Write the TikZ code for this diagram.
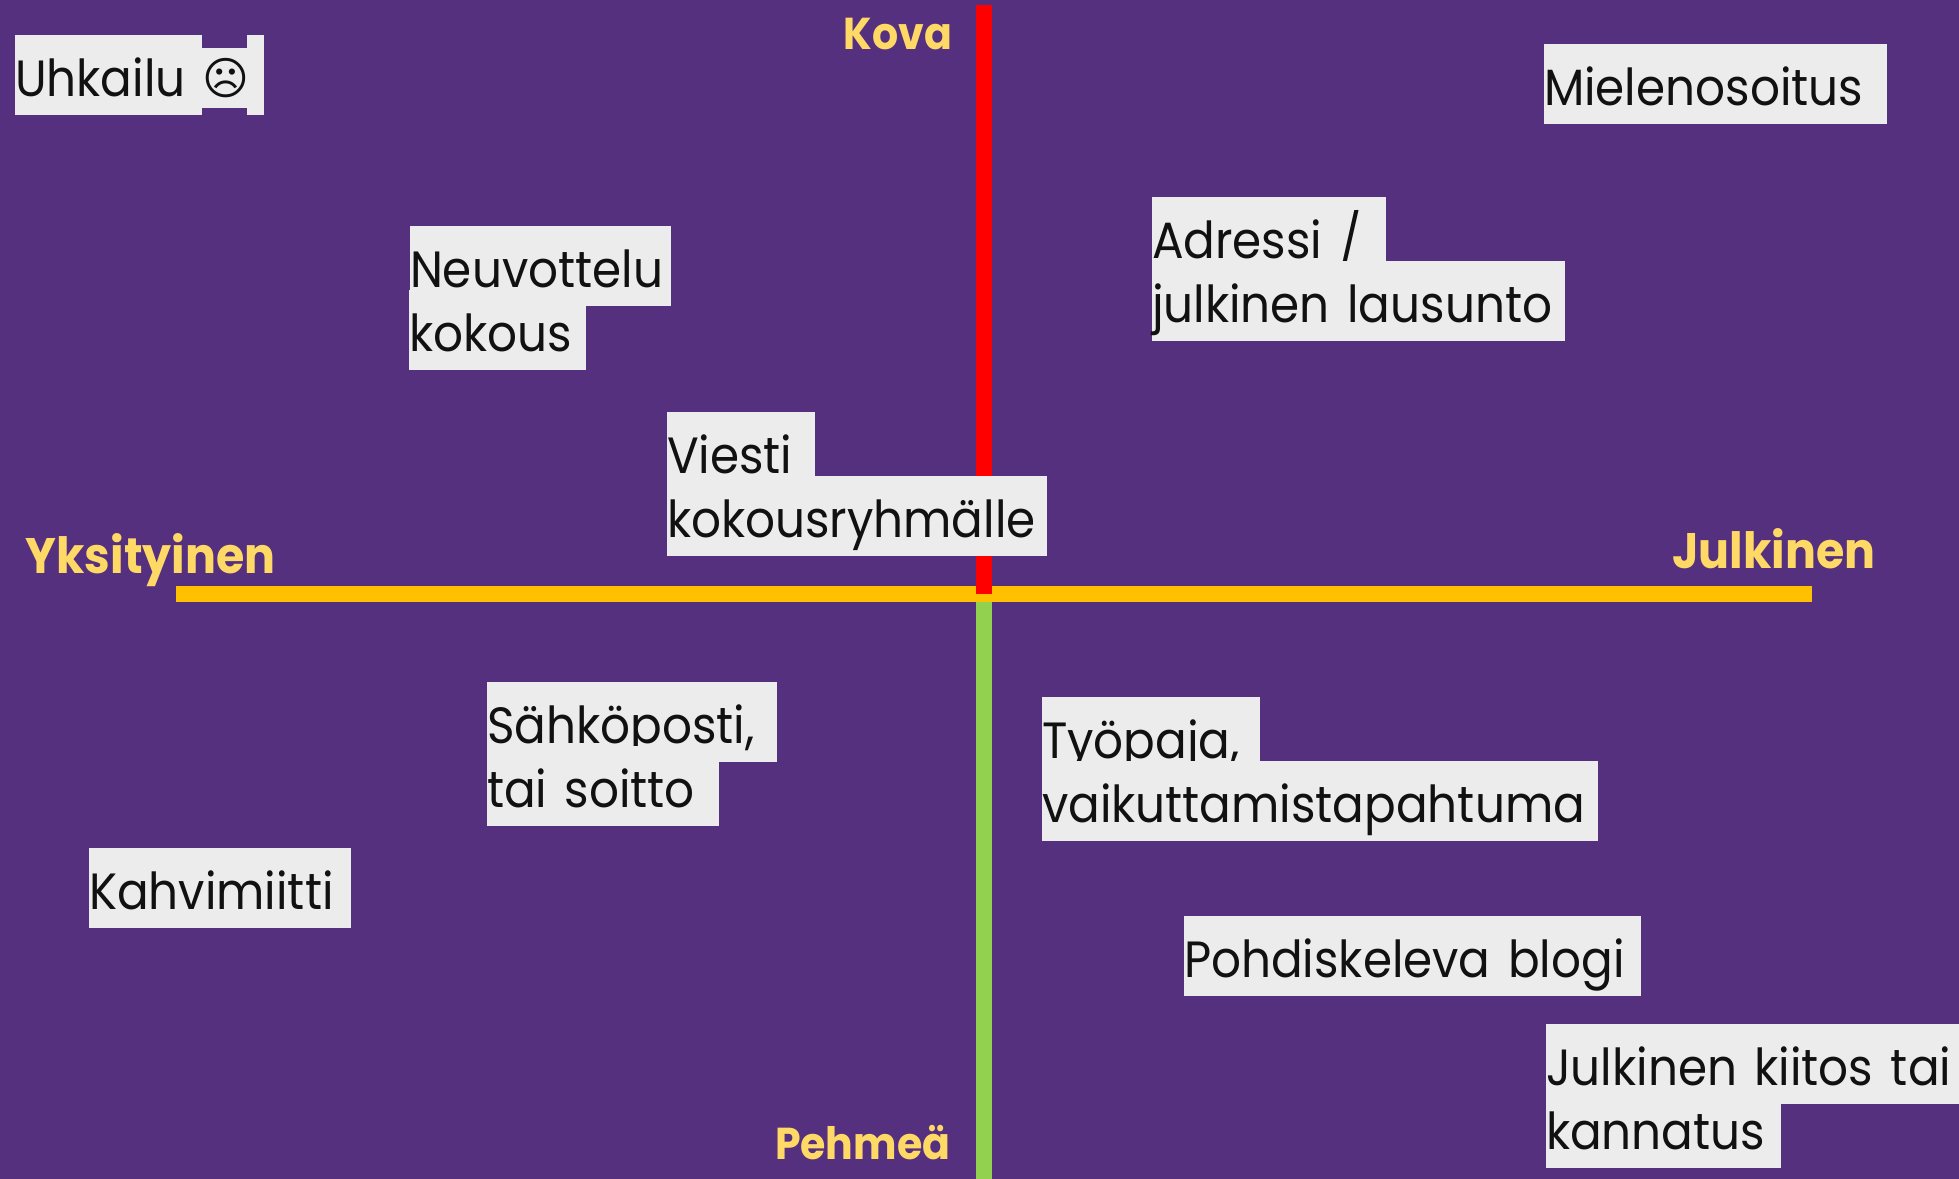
\documentclass[tikz,border=0pt]{standalone}
\usepackage{fontspec}
\setmainfont{Poppins}[FakeStretch=0.92, WordSpace=1.4]
\newfontfamily\symbfont{DejaVu Sans}
\definecolor{plum}{HTML}{55307E}
\definecolor{paper}{HTML}{ECECEC}
\definecolor{ink}{HTML}{111111}
\definecolor{hardred}{HTML}{FF0000}
\definecolor{softgreen}{HTML}{92D050}
\definecolor{axisyellow}{HTML}{FFC000}
\definecolor{labelyellow}{HTML}{FFD966}
\tikzstyle{hl} = [fill=paper, text=ink, anchor=north west, inner sep=0pt, outer sep=0pt, text width=#1cm, align=flush left, text height=0.62cm, text depth=0.18cm, font=\fontsize{14.5pt}{17pt}\selectfont]
\tikzstyle{axislabel} = [text=labelyellow, inner sep=0pt, font=\fontsize{12.7pt}{16pt}\selectfont\bfseries]
\tikzstyle{axislabelbig} = [axislabel, font=\fontsize{14.2pt}{18pt}\selectfont\bfseries]
\tikzstyle{line} = [draw, line width=0.16cm]

\begin{document}
\begin{tikzpicture}[y=-1cm]
    \useasboundingbox [fill=plum] (0,0) rectangle (19.59,11.79);
    % Place axis ends
    \coordinate (top) at (9.84,0.05);
    \coordinate (bottom) at (9.84,11.79);
    \coordinate (left) at (1.76,5.94);
    \coordinate (right) at (18.12,5.94);
    \coordinate (centre) at (9.84,5.94);
    % Draw axes
    \draw [line, softgreen] (centre) -- (bottom);
    \draw [line, axisyellow] (left) -- (right);
    \draw [line, hardred] (top) -- (centre);
    % Place axis labels
    \node [axislabel, anchor=base east] (kova) at (9.53,0.50) {Kova};
    \node [axislabel, anchor=base east] (pehmea) at (9.51,11.60) {Pehmeä};
    \node [axislabelbig, anchor=base west] (yksityinen) at (0.25,5.74) {Yksityinen};
    \node [axislabelbig, anchor=base east] (julkinen) at (18.76,5.69) {Julkinen};
    % Place nodes
    \node [hl=1.87] (uhkailu) at (0.15,0.35) {Uhkailu};
    \node [hl=0.45, text height=0.47cm, text depth=0.13cm, font=\fontsize{12.8pt}{17pt}\selectfont] (uhkailu_face) at (2.02,0.48) {\symbfont ☹};
    \node [hl=0.17] (uhkailu_end) at (2.47,0.35) {};
    \node [hl=2.61] (neuvottelu) at (4.10,2.26) {Neuvottelu};
    \node [hl=1.77] (kokous) at (4.09,2.90) {kokous};
    \node [hl=1.48] (viesti) at (6.67,4.12) {Viesti};
    \node [hl=3.80] (ryhma) at (6.67,4.76) {kokousryhmälle};
    \node [hl=3.43] (mielenosoitus) at (15.44,0.44) {Mielenosoitus};
    \node [hl=2.34] (adressi) at (11.52,1.97) {Adressi /};
    \node [hl=4.13] (lausunto) at (11.52,2.61) {julkinen lausunto};
    \node [hl=2.90] (sahkoposti) at (4.87,6.82) {Sähköposti,};
    \node [hl=2.32] (soitto) at (4.87,7.46) {tai soitto};
    \node [hl=2.62] (kahvi) at (0.89,8.48) {Kahvimiitti};
    \node [hl=2.18] (tyopaja) at (10.42,6.97) {Työpaja,};
    \node [hl=5.56] (tapahtuma) at (10.42,7.61) {vaikuttamistapahtuma};
    \node [hl=4.57] (blogi) at (11.84,9.16) {Pohdiskeleva blogi};
    \node [hl=4.13] (kiitos) at (15.46,10.24) {Julkinen kiitos tai};
    \node [hl=2.35] (kannatus) at (15.46,10.88) {kannatus};
\end{tikzpicture}
\end{document}
